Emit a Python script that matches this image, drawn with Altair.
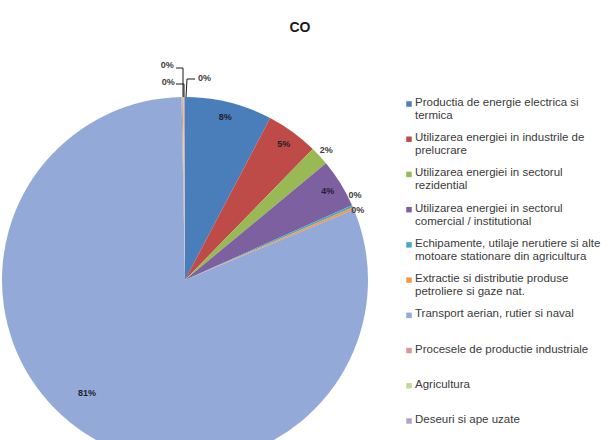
import math
import altair as alt
import pandas as pd

# ---- data ----
categories = [
    "Productia de energie electrica si|termica",
    "Utilizarea energiei in industrile de|prelucrare",
    "Utilizarea energiei in sectorul|rezidential",
    "Utilizarea energiei in sectorul|comercial / institutional",
    "Echipamente, utilaje nerutiere si alte|motoare stationare din agricultura",
    "Extractie si distributie produse|petroliere si gaze nat.",
    "Transport aerian, rutier si naval",
    "Procesele de productie industriale",
    "Agricultura",
    "Deseuri si ape uzate",
]
values = [7.7, 4.6, 1.7, 4.3, 0.2, 0.2, 81.0, 0.1, 0.1, 0.1]
colors = ["#4A7EBB", "#BE4B48", "#98B954", "#7D60A0", "#46AAC5",
          "#F79646", "#93A9D7", "#D99694", "#C3D69B", "#B3A2C7"]
title_text = "CO"

df = pd.DataFrame({"category": categories, "value": values,
                   "idx": list(range(len(categories)))})

CX, CY, R = 185, 280, 183
FONT = "Liberation Sans"

color_enc = alt.Color("category:N", scale=alt.Scale(domain=categories, range=colors), legend=None)
theta_scale = alt.Scale(domain=[0, 100], range=[0, 2 * math.pi])

base = (
    alt.Chart(df)
    .transform_window(cum="sum(value)", sort=[{"field": "idx"}], frame=[None, 0])
    .transform_calculate(
        start="datum.cum - datum.value",
        mid="datum.cum - datum.value / 2",
        label="format(round(datum.value), 'd') + '%'",
    )
)

pie = base.mark_arc(radius=R).encode(
    theta=alt.Theta("start:Q", scale=theta_scale),
    theta2="cum:Q",
    color=color_enc,
    x=alt.value(CX),
    y=alt.value(CY),
)


def pct_layer(idxs, radius, color, dx=0, dy=0):
    return base.mark_text(
        radius=radius, dx=dx, dy=dy, font=FONT, fontSize=9, fontWeight="bold", color=color
    ).encode(
        theta=alt.Theta("mid:Q", scale=theta_scale),
        text="label:N",
        x=alt.value(CX),
        y=alt.value(CY),
    ).transform_filter(alt.FieldOneOfPredicate(field="idx", oneOf=idxs))


labels = [
    pct_layer([0, 1, 3], 168, "#1F1F2F"),
    pct_layer([2], 192, "#404040"),
    pct_layer([4], 190, "#404040", dx=-4, dy=-8),
    pct_layer([5], 190, "#404040", dx=-2, dy=4),
    pct_layer([6], 150, "#1F1F2F", dx=-16, dy=-13),
    pct_layer([7], R, "#404040", dx=-15, dy=-32),
    pct_layer([8], R, "#404040", dx=-15, dy=-15),
    pct_layer([9], R, "#404040", dx=20, dy=-19),
]

# leader lines (annotations)
one = pd.DataFrame({"a": [0]})
segs = [
    (176, 68, 183, 68), (183, 68, 183, 97),
    (176, 84, 184, 84), (184, 84, 184, 97),
    (195, 79, 187, 79), (187, 79, 186, 97),
]
leaders = [
    alt.Chart(one).mark_rule(color="#1A1A1A", strokeWidth=1).encode(
        x=alt.value(a), y=alt.value(b), x2=alt.value(c), y2=alt.value(d)
    )
    for a, b, c, d in segs
]

# legend (manual, to get uniform spacing with wrapped labels)
leg_y = alt.Y("category:N", scale=alt.Scale(type="point", domain=categories, range=[104, 421], padding=0), axis=None)
leg_sym = alt.Chart(df).mark_square(size=30, opacity=1).encode(
    x=alt.value(409), y=leg_y, color=color_enc
)
leg_txt = alt.Chart(df).mark_text(
    align="left", baseline="top", dy=-7, lineBreak="|", lineHeight=13,
    font=FONT, fontSize=11.5, color="#3A3A3A"
).encode(x=alt.value(415), y=leg_y, text="category:N")

title = alt.Chart(pd.DataFrame({"t": [title_text]})).mark_text(
    font=FONT, fontSize=14, fontWeight="bold", color="#1A1A1A", align="center", baseline="middle"
).encode(x=alt.value(300), y=alt.value(28), text="t:N")

chart = alt.layer(pie, *labels, *leaders, leg_sym, leg_txt, title).properties(
    width=608, height=440, autosize=alt.AutoSizeParams(type="none"), padding=0
).configure_view(stroke=None)

chart.save("out.html", embed_options={"renderer": "svg", "actions": False})
